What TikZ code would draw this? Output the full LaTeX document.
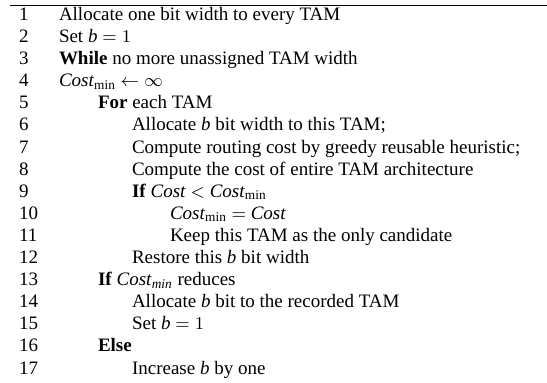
\documentclass[tikz,border=0pt]{standalone}
\usepackage{fontspec}
\setmainfont{Liberation Serif}

\tikzset{
  every node/.style={inner sep=0pt, outer sep=0pt, anchor=base west},
  lineno/.style={font=\fontsize{9.5}{11}\selectfont},
  codeline/.style={font=\fontsize{9.5}{11}\selectfont},
}

\begin{document}
\begin{tikzpicture}[x=0.5pt, y=-0.5pt]
	\useasboundingbox (0,0) rectangle (547,383);
	% top rule
	\draw[line width=0.7pt] (10,5.5) -- (547,5.5);

	% line numbers
	\foreach \i in {1,...,17}
		\node[lineno] (n\i) at (19,{20.5+(\i-1)*22.1}) {\i};

	% listing
	\node[codeline] (l1) at (59,20.5) {Allocate one bit width to every TAM};
	\node[codeline] (l2) at (59,42.6) {Set \textit{b} $=1$};
	\node[codeline] (l3) at (59,64.7) {\textbf{While} no more unassigned TAM width};
	\node[codeline] (l4) at (59,86.8) {\textit{Cost}\textsubscript{min} $\leftarrow\infty$};
	\node[codeline] (l5) at (98,108.9) {\textbf{For} each TAM};
	\node[codeline] (l6) at (132,131.0) {Allocate \textit{b} bit width to this TAM;};
	\node[codeline] (l7) at (132,153.1) {Compute routing cost by greedy reusable heuristic;};
	\node[codeline] (l8) at (132,175.2) {Compute the cost of entire TAM architecture};
	\node[codeline] (l9) at (132,197.3) {\textbf{If} \textit{Cost} $<$ \textit{Cost}\textsubscript{min}};
	\node[codeline] (l10) at (170,219.4) {\textit{Cost}\textsubscript{min} $=$ \textit{Cost}};
	\node[codeline] (l11) at (170,241.5) {Keep this TAM as the only candidate};
	\node[codeline] (l12) at (132,263.6) {Restore this \textit{b} bit width};
	\node[codeline] (l13) at (98,285.7) {\textbf{If} \textit{Cost}\textsubscript{\textit{min}} reduces};
	\node[codeline] (l14) at (132,307.8) {Allocate \textit{b} bit to the recorded TAM};
	\node[codeline] (l15) at (132,329.9) {Set \textit{b} $=1$};
	\node[codeline] (l16) at (98,352.0) {\textbf{Else}};
	\node[codeline] (l17) at (132,374.1) {Increase \textit{b} by one};
\end{tikzpicture}
\end{document}
